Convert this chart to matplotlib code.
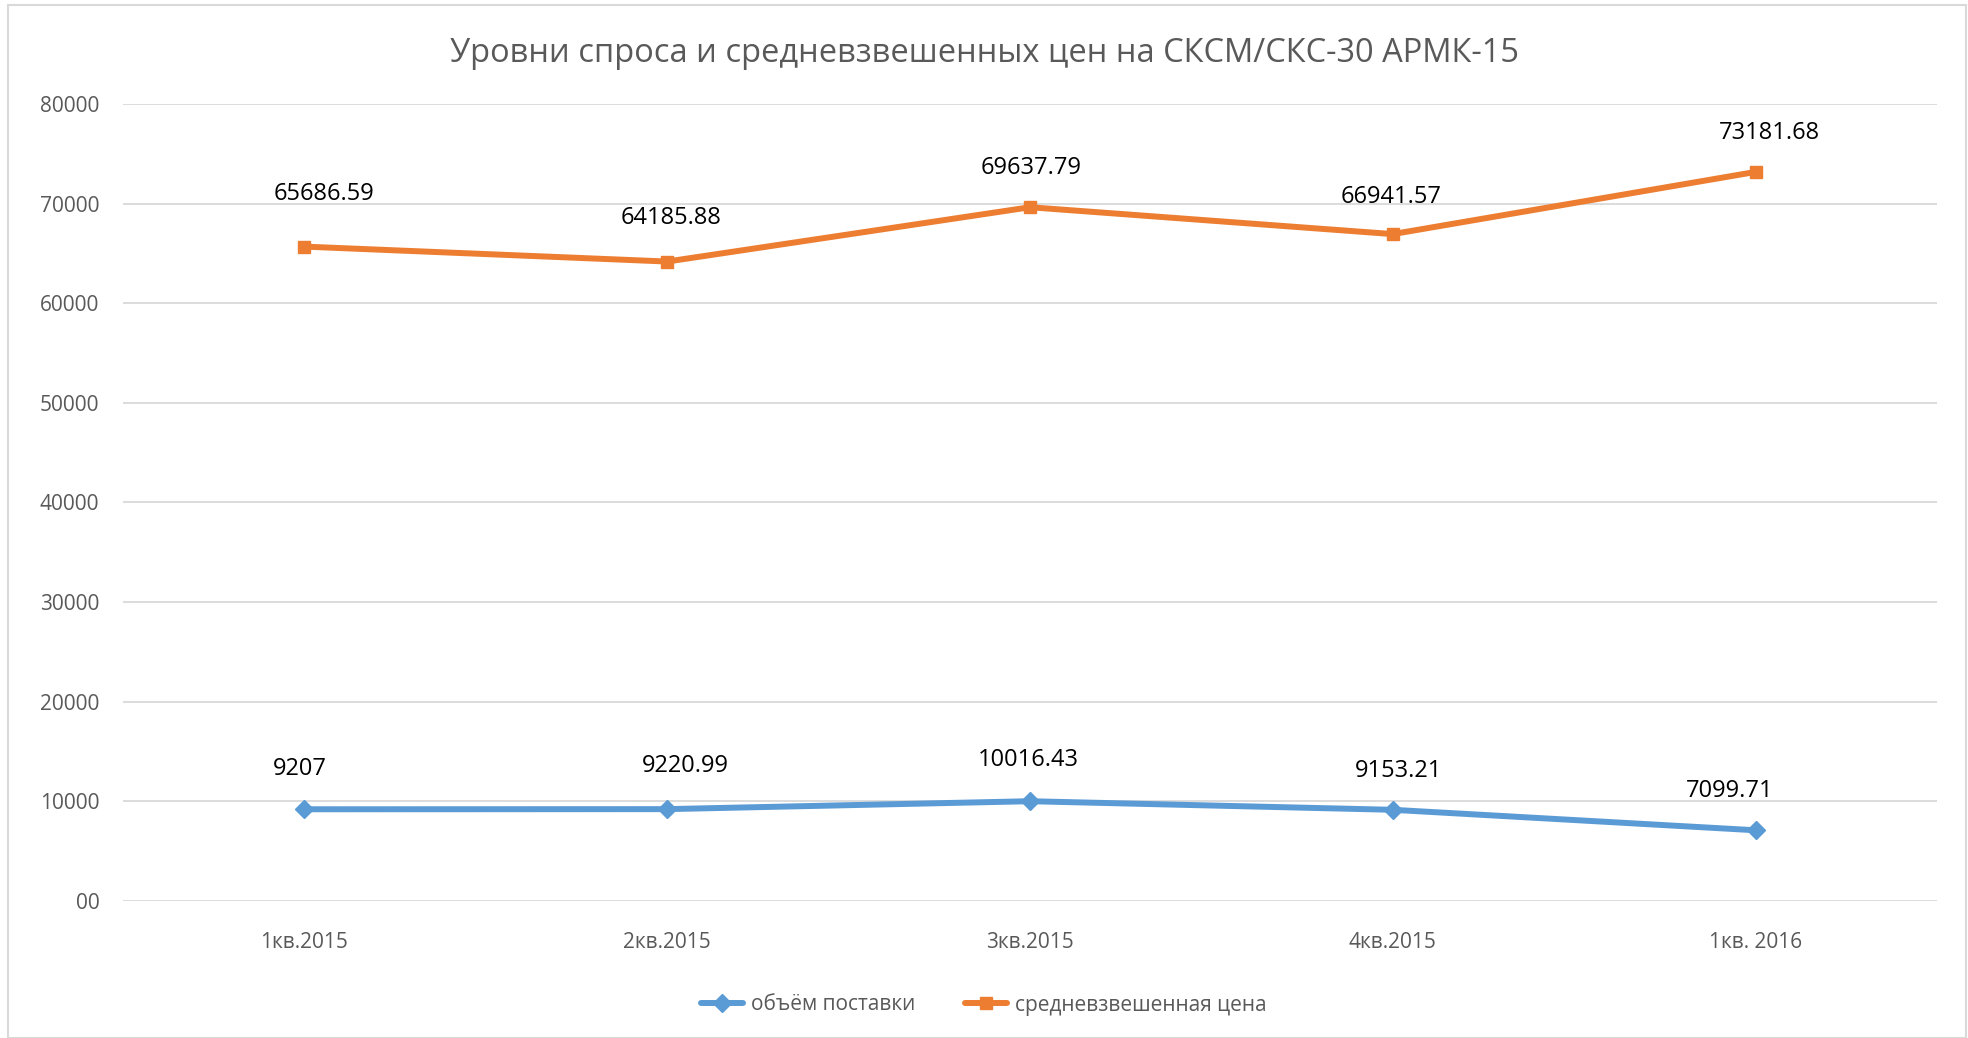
import matplotlib.pyplot as plt
from matplotlib.patches import Rectangle

# data
quarters = ['1кв.2015', '2кв.2015', '3кв.2015', '4кв.2015', '1кв. 2016']
volume = [9207, 9220.99, 10016.43, 9153.21, 7099.71]
price = [65686.59, 64185.88, 69637.79, 66941.57, 73181.68]
volume_labels = ['9207', '9220.99', '10016.43', '9153.21', '7099.71']
price_labels = ['65686.59', '64185.88', '69637.79', '66941.57', '73181.68']
yticks = [0, 10000, 20000, 30000, 40000, 50000, 60000, 70000, 80000]
ytick_labels = ['00', '10000', '20000', '30000', '40000', '50000', '60000', '70000', '80000']

# label nudges (points), labels were dragged a bit in the original
volume_off = [(-3, 29), (13, 31), (-1, 30), (4, 28), (-19, 28)]
price_off = [(14, 38), (3, 31), (1, 28), (-1, 27), (10, 28)]

plt.rcParams['font.family'] = ['Open Sans', 'DejaVu Sans']

W, H = 1968, 1038
fig = plt.figure(figsize=(W / 100, H / 100), dpi=100)

# outer chart border
fig.patches.append(Rectangle((8 / W, 0), (1966 - 8) / W, (1038 - 5) / H,
                             transform=fig.transFigure, fill=False,
                             edgecolor='#D9D9D9', linewidth=1.5))

ax = fig.add_axes([123 / W, 1 - 901 / H, (1937 - 123) / W, (901 - 104) / H])

x = range(len(quarters))
blue = '#5B9BD5'
orange = '#ED7D31'
ax.plot(x, volume, color=blue, lw=4.3, marker='D', markersize=9,
        label='объём поставки', solid_capstyle='round', zorder=3)
ax.plot(x, price, color=orange, lw=4.3, marker='s', markersize=9,
        label='средневзвешенная цена', solid_capstyle='round', zorder=3)

for i in x:
    ax.annotate(volume_labels[i], (i, volume[i]), xytext=volume_off[i], textcoords='offset points',
                ha='center', va='center', fontsize=17, color='black')
    ax.annotate(price_labels[i], (i, price[i]), xytext=price_off[i], textcoords='offset points',
                ha='center', va='center', fontsize=17, color='black')

ax.set_xlim(-0.5, len(quarters) - 0.5)
ax.set_ylim(0, 80000)
ax.set_yticks(yticks)
ax.set_yticklabels(ytick_labels)
ax.set_xticks(list(x))
ax.set_xticklabels(quarters)
ax.tick_params(axis='both', length=0, labelsize=15, colors='#595959')
ax.tick_params(axis='x', pad=22)
ax.tick_params(axis='y', pad=17)
ax.grid(axis='y', color='#D9D9D9', lw=1.3)
ax.set_axisbelow(True)
for s in ax.spines.values():
    s.set_visible(False)

fig.text(0.5, 1 - 54 / H,
         'Уровни спроса и средневзвешенных цен на СКСМ/СКС-30 АРМК-15',
         ha='center', va='center', fontsize=23.5, color='#595959')

fig.legend(loc='center', bbox_to_anchor=(0.5, 1 - 1005 / H),
           ncol=2, frameon=False, fontsize=15, labelcolor='#595959',
           handlelength=2.0, handletextpad=0.4, columnspacing=2.4)

fig.savefig('out.png', dpi=100)
